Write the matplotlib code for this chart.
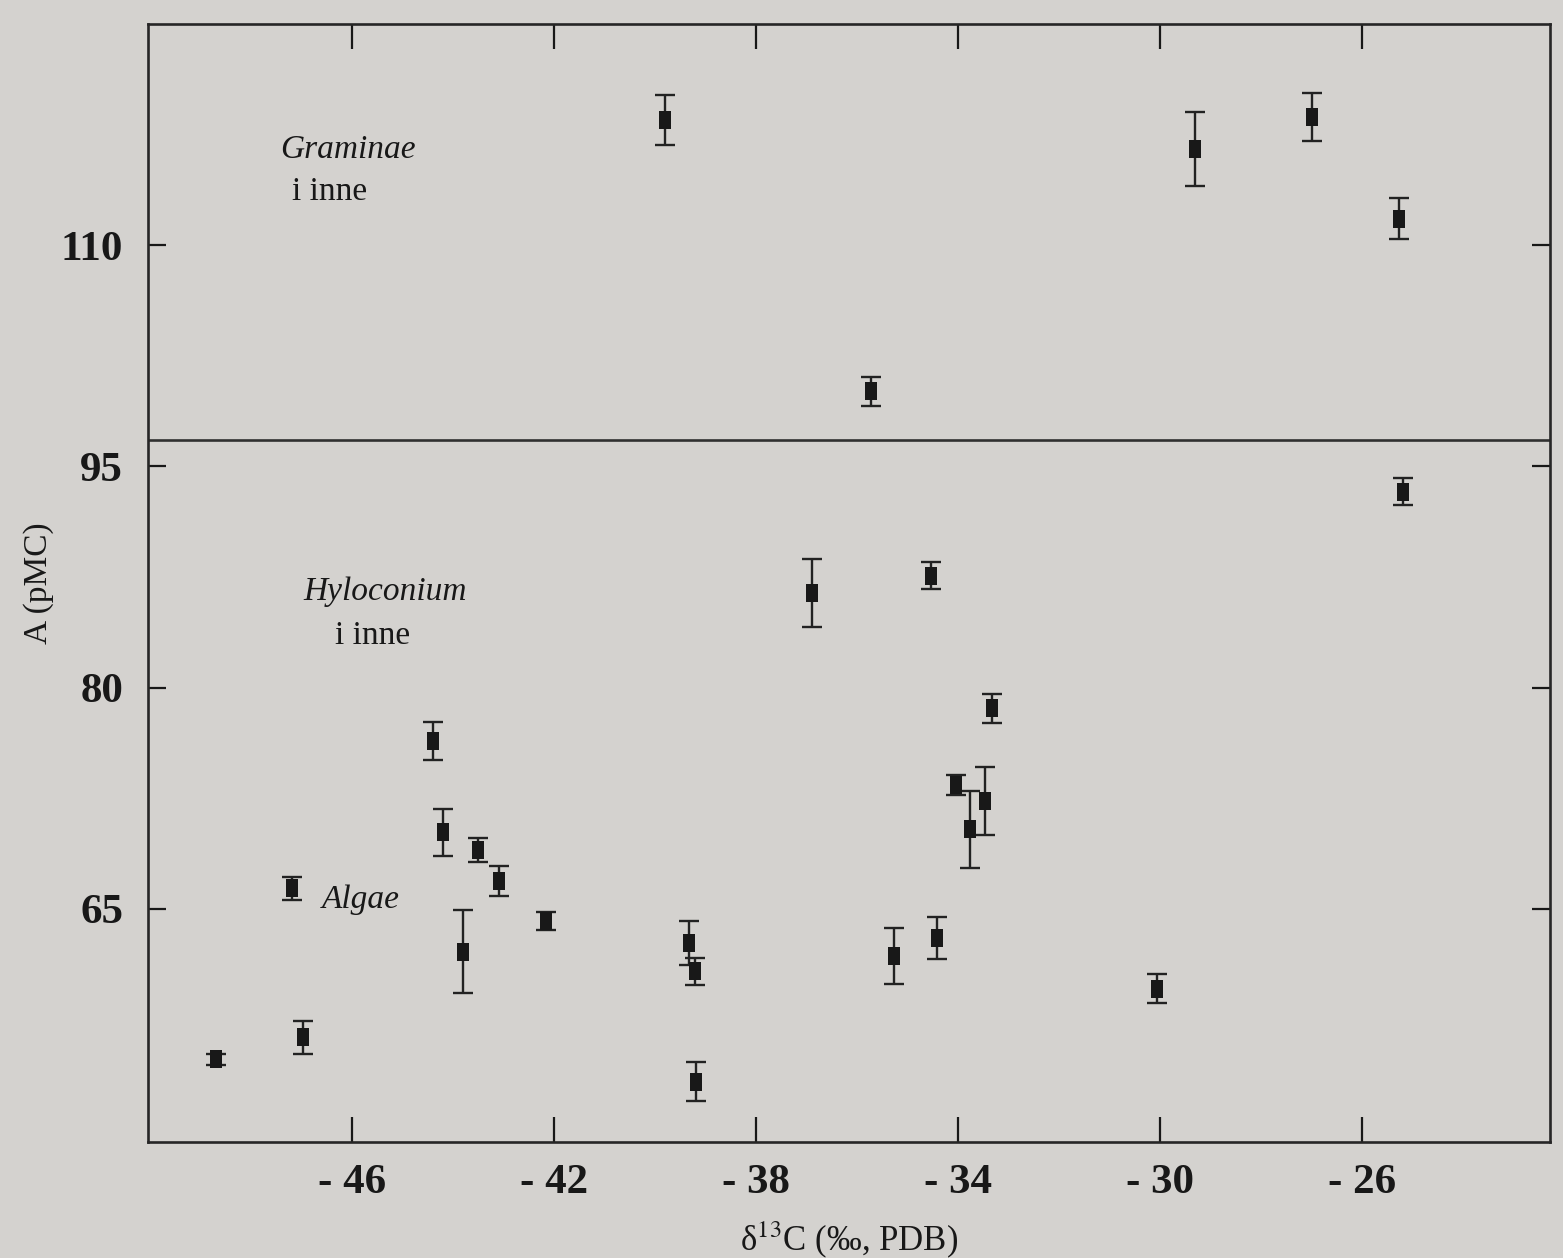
import numpy as np
import matplotlib
matplotlib.use('Agg')
import matplotlib.pyplot as plt
from matplotlib.path import Path

plt.rcParams['font.family'] = ['Liberation Serif', 'DejaVu Serif']
plt.rcParams['mathtext.fontset'] = 'stix'

# delta13C (per mil, PDB) and activity A (pMC) with error
d13c = [-39.8, -29.3, -27.0, -25.26, -35.73,
        -25.2, -36.9, -34.53, -33.33, -44.4, -34.04, -33.47, -33.76,
        -44.2, -43.5, -43.1, -47.19, -42.16, -43.8, -39.33, -39.2,
        -35.26, -34.42, -30.06, -46.98, -48.69, -39.19]
a_pmc = [118.5, 116.5, 118.7, 111.8, 100.1,
         93.3, 86.4, 87.6, 78.6, 76.4, 73.4, 72.3, 70.4,
         70.2, 69.0, 66.9, 66.4, 64.2, 62.1, 62.7, 60.76,
         61.8, 63.03, 59.6, 56.3, 54.8, 53.3]
a_err = [1.7, 2.5, 1.6, 1.4, 1.0,
         0.9, 2.3, 0.9, 1.0, 1.3, 0.7, 2.3, 2.6,
         1.6, 0.8, 1.0, 0.8, 0.6, 2.8, 1.5, 0.9,
         1.9, 1.4, 1.0, 1.1, 0.4, 1.3]

xticks = [-46, -42, -38, -34, -30, -26]
xtick_labels = ['- ' + str(abs(v)) for v in xticks]
yticks = [65, 80, 95, 110]
separator_y = 96.8

bg = '#d4d2cf'
ink = '#181818'

fig = plt.figure(figsize=(15.63, 12.58), dpi=100, facecolor=bg)
ax = fig.add_axes([148/1563, 1 - 1142/1258, 1402/1563, 1118/1258], facecolor=bg)

ax.errorbar(d13c, a_pmc, yerr=a_err, fmt='none', ecolor='#222222',
            elinewidth=1.7, capsize=7, capthick=1.7)
rect = Path([(-0.32, -0.5), (0.32, -0.5), (0.32, 0.5), (-0.32, 0.5), (-0.32, -0.5)],
            [Path.MOVETO, Path.LINETO, Path.LINETO, Path.LINETO, Path.CLOSEPOLY])
ax.plot(d13c, a_pmc, linestyle='none', marker=rect, markersize=13,
        color=ink, markeredgewidth=0)

ax.axhline(separator_y, color='#303030', linewidth=1.9)

ax.set_xlim(-50.04, -22.28)
ax.set_ylim(49.2, 125)
ax.set_xticks(xticks, labels=xtick_labels)
ax.set_yticks(yticks)
ax.tick_params(axis='x', direction='in', length=18, width=1.6, top=True,
               labelsize=31, pad=16, colors=ink)
ax.tick_params(axis='y', direction='in', length=13, width=1.6, right=True,
               labelsize=31, pad=18, colors=ink)
for lab in ax.get_xticklabels() + ax.get_yticklabels():
    lab.set_fontweight('bold')
for s in ax.spines.values():
    s.set_linewidth(1.9)
    s.set_color('#262626')

ax.text(-47.43, 116.5, 'Graminae', style='italic', fontsize=24,
        ha='left', va='center', color=ink)
ax.text(-47.19, 113.6, 'i inne', fontsize=24, ha='left', va='center', color=ink)
ax.text(-46.97, 86.5, 'Hyloconium', style='italic', fontsize=24,
        ha='left', va='center', color=ink)
ax.text(-46.34, 83.5, 'i inne', fontsize=24, ha='left', va='center', color=ink)
ax.text(-46.6, 65.6, 'Algae', style='italic', fontsize=24,
        ha='left', va='center', color=ink)

ax.set_xlabel(r'δ$^{13}$C (‰, PDB)', fontsize=25, color=ink, labelpad=12)
ax.set_ylabel('A (pMC)', fontsize=24, color=ink, labelpad=5)

fig.savefig('out.png', dpi=100, facecolor=bg)
